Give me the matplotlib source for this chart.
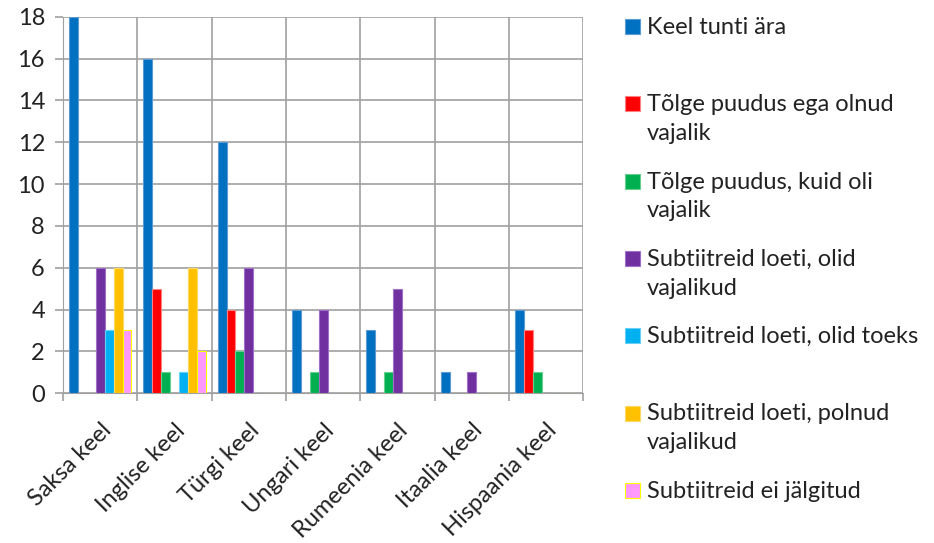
import numpy as np
import matplotlib
matplotlib.use("Agg")
from matplotlib import pyplot as plt
from matplotlib.patches import Rectangle

plt.rcParams['font.family'] = ['Lato', 'DejaVu Sans']

languages = ['Saksa keel', 'Inglise keel', 'Türgi keel', 'Ungari keel',
             'Rumeenia keel', 'Itaalia keel', 'Hispaania keel']
series = ['Keel tunti ära',
          'Tõlge puudus ega olnud\nvajalik',
          'Tõlge puudus, kuid oli\nvajalik',
          'Subtiitreid loeti, olid\nvajalikud',
          'Subtiitreid loeti, olid toeks',
          'Subtiitreid loeti, polnud\nvajalikud',
          'Subtiitreid ei jälgitud']
keel_tunti = [18, 16, 12, 4, 3, 1, 4]
polnud_vaja = [0, 5, 4, 0, 0, 0, 3]
oli_vaja = [0, 1, 2, 1, 1, 0, 1]
sub_vajalikud = [6, 0, 6, 4, 5, 1, 0]
sub_toeks = [3, 1, 0, 0, 0, 0, 0]
sub_polnud = [6, 6, 0, 0, 0, 0, 0]
ei_jalgitud = [3, 2, 0, 0, 0, 0, 0]
values = [keel_tunti, polnud_vaja, oli_vaja, sub_vajalikud, sub_toeks, sub_polnud, ei_jalgitud]

colors = ['#0070C0', '#FF0000', '#00B050', '#7030A0', '#00B0F0', '#FFC000', '#FF99FF']
edges = ['#5B9BD5', '#FF8080', '#66D08F', '#A070C8', '#66D0F6', '#FFD966', '#FFFF00']

fig = plt.figure(figsize=(9.34, 5.43), dpi=100)
ax = fig.add_axes([0.0675, 0.276, 0.557, 0.693])

x = np.arange(len(languages))
w = 0.12
for i, vals in enumerate(values):
    ax.bar(x + (i - 3) * w, vals, width=w, color=colors[i],
           edgecolor=edges[i], linewidth=0.8, zorder=3)

ax.set_xlim(-0.5, len(languages) - 0.5)
ax.set_ylim(0, 18)
ax.set_yticks(range(0, 19, 2))
ax.set_xticks(x)
ax.set_xticks(np.arange(-0.5, len(languages), 1), minor=True)
ax.set_xticklabels(languages, rotation=45, ha='right', rotation_mode='anchor')

grid = '#A0A0A0'
ax.grid(True, axis='y', color=grid, linewidth=1.2, zorder=0)
ax.grid(True, axis='x', which='minor', color=grid, linewidth=1.2, zorder=0)
ax.tick_params(axis='x', which='major', length=0, pad=19, labelsize=17, colors='#222222')
ax.tick_params(axis='x', which='minor', length=6, color=grid, width=1.2)
ax.tick_params(axis='y', length=6, color=grid, width=1.2, labelsize=17, pad=7,
               labelcolor='#222222')
for s in ax.spines.values():
    s.set_visible(False)
ax.spines['left'].set_visible(True)
ax.spines['left'].set_color(grid)
ax.spines['bottom'].set_visible(True)
ax.spines['bottom'].set_color(grid)

# legend on the right, one entry every 77 px
W, H = 934, 543
for i, name in enumerate(series):
    ytop = 26 + i * 77.3
    fig.add_artist(Rectangle((625 / W, 1 - (ytop + 8) / H), 15 / W, 15 / H,
                             transform=fig.transFigure, facecolor=colors[i],
                             edgecolor=edges[i], linewidth=0.8))
    fig.text(647 / W, 1 - (ytop - 9) / H, name, fontsize=17, va='top',
             color='#222222', linespacing=1.45)

fig.savefig('out.png', dpi=100)
